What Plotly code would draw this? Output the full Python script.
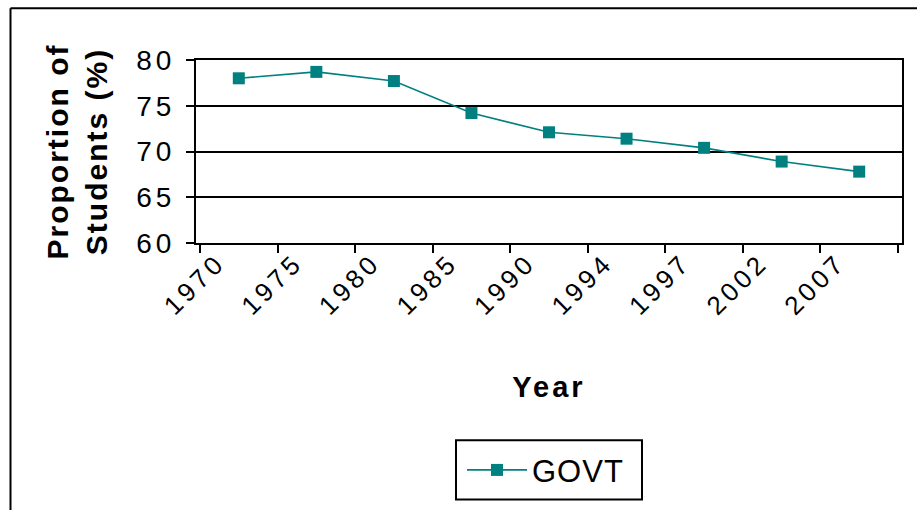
import plotly.graph_objects as go

# Share of students in government schools by survey year
years = ["1970", "1975", "1980", "1985", "1990", "1994", "1997", "2002", "2007"]
govt_share = [78.0, 78.7, 77.7, 74.2, 72.1, 71.4, 70.4, 68.9, 67.8]
y_ticks = [60, 65, 70, 75, 80]

TEAL = "#008080"
FONT = "Liberation Sans, Arial, sans-serif"

fig = go.Figure()
fig.add_trace(go.Scatter(
    x=years, y=govt_share, name="GOVT", mode="lines+markers",
    line=dict(color=TEAL, width=1.6),
    marker=dict(symbol="square", size=12, color=TEAL),
))

# plot area in pixels: x 196..902, y 59.5..245
L, R, T, B = 196, 902, 59.5, 245
W, H = 917, 510
pw, ph = R - L, B - T


def px_x(px):
    return (px - L) / pw


def px_y(py):
    return (B - py) / ph


fig.update_layout(
    width=W, height=H, autosize=False,
    margin=dict(l=L, r=W - R, t=T, b=H - B),
    paper_bgcolor="white", plot_bgcolor="white",
    font=dict(family=FONT, color="black", size=28),
    showlegend=True,
    legend=dict(
        x=px_x(462), y=px_y(448), xanchor="left", yanchor="top",
        borderwidth=0, bgcolor="rgba(0,0,0,0)",
        itemwidth=60,
        font=dict(size=31, family=FONT),
    ),
    xaxis=dict(
        type="category", tickangle=-45, tickson="boundaries",
        ticks="outside", ticklen=8, tickwidth=1.5, tickcolor="black",
        showline=True, linecolor="black", linewidth=2, mirror=True,
        showgrid=False, zeroline=False,
        tickfont=dict(size=26),
        ticklabelshift=-21, ticklabelstandoff=-8,
        title=dict(text="<b>Year</b>", font=dict(size=29), standoff=68),
    ),
    yaxis=dict(
        range=[60, 80], tickvals=y_ticks, ticktext=[str(v) for v in y_ticks],
        ticks="outside", ticklen=8, tickwidth=1.5, tickcolor="black",
        showline=True, linecolor="black", linewidth=2, mirror=True,
        showgrid=True, gridcolor="black", gridwidth=1.5, zeroline=False,
        tickfont=dict(size=28),
        ticklabelstandoff=5,
        title=dict(text="<b>Proportion of<br>Students (%)</b>", font=dict(size=30), standoff=28),
    ),
    shapes=[
        # outer chart frame: left and top edges (the rest runs off the page)
        dict(
            type="line", xref="paper", yref="paper",
            x0=px_x(10.5), x1=px_x(10.5), y0=px_y(H + 40), y1=px_y(7),
            line=dict(color="black", width=2),
        ),
        dict(
            type="line", xref="paper", yref="paper",
            x0=px_x(10.5), x1=px_x(W + 20), y0=px_y(7), y1=px_y(7),
            line=dict(color="black", width=2),
        ),
        # legend frame
        dict(
            type="rect", xref="paper", yref="paper",
            x0=px_x(456), x1=px_x(642), y0=px_y(505), y1=px_y(445),
            line=dict(color="black", width=2), layer="below",
        ),
    ],
)

spacing_js = """
var gd = document.getElementById('{plot_id}');
gd.querySelectorAll('.xtick text, .ytick text').forEach(function(t){ t.style.letterSpacing = '4px'; });
gd.querySelectorAll('.g-xtitle text').forEach(function(t){ t.style.letterSpacing = '3px'; });
gd.querySelectorAll('.g-ytitle text').forEach(function(t){ t.style.letterSpacing = '2px'; });
gd.querySelectorAll('.legendtext').forEach(function(t){ t.style.letterSpacing = '1px'; });
gd.querySelectorAll('.legend .scrollbox').forEach(function(s){ s.removeAttribute('clip-path'); });
"""

fig.write_html("out.html", post_script=spacing_js)
